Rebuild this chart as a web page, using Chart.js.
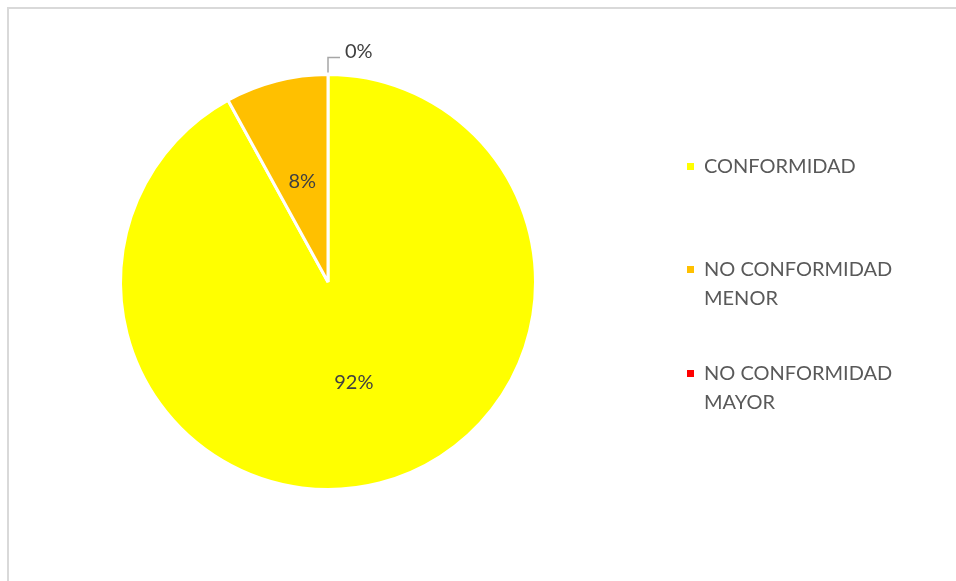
<!DOCTYPE html>
<html>
<head>
<meta charset="utf-8">
<script src="https://cdn.jsdelivr.net/npm/chart.js@4"></script>
<style>
  html, body { margin: 0; padding: 0; background: #fff; }
  #wrap { position: relative; width: 956px; height: 581px; }
</style>
</head>
<body>
<div id="wrap"><canvas id="chart" width="956" height="581"></canvas></div>
<script>
const categories = ["CONFORMIDAD", "NO CONFORMIDAD MENOR", "NO CONFORMIDAD MAYOR"];
const legendLines = [["CONFORMIDAD"], ["NO CONFORMIDAD", "MENOR"], ["NO CONFORMIDAD", "MAYOR"]];
const values = [92, 8, 0];
const sliceColors = ["#FFFF00", "#FFC000", "#FF0000"];

const FONT = "Lato, 'Open Sans', sans-serif";

// frame, data labels and legend
const decorPlugin = {
  id: "decor",
  beforeDraw(chart) {
    const ctx = chart.ctx;
    ctx.save();
    ctx.strokeStyle = "#d9d9d9";
    ctx.lineWidth = 2;
    ctx.beginPath();
    ctx.moveTo(8, 581);
    ctx.lineTo(8, 8);
    ctx.lineTo(956, 8);
    ctx.stroke();
    ctx.restore();
  },
  afterDraw(chart) {
    const ctx = chart.ctx;
    const arcs = chart.getDatasetMeta(0).data;
    const total = values.reduce((a, b) => a + b, 0);
    ctx.save();
    ctx.font = "20px " + FONT;
    ctx.fillStyle = "#404040";
    ctx.textBaseline = "middle";
    arcs.forEach((arc, i) => {
      const pct = Math.round(values[i] / total * 100) + "%";
      const mid = (arc.startAngle + arc.endAngle) / 2;
      if (values[i] > 0) {
        const d = arc.outerRadius * 0.5;
        ctx.textAlign = "center";
        ctx.fillText(pct, arc.x + Math.cos(mid) * d, arc.y + Math.sin(mid) * d);
      } else {
        // leader line for the empty slice
        const ex = arc.x + Math.cos(mid) * arc.outerRadius;
        const ey = arc.y + Math.sin(mid) * arc.outerRadius;
        ctx.strokeStyle = "#a6a6a6";
        ctx.lineWidth = 1.5;
        ctx.beginPath();
        ctx.moveTo(ex, ey - 2);
        ctx.lineTo(ex, ey - 17);
        ctx.lineTo(ex + 12, ey - 17);
        ctx.stroke();
        ctx.textAlign = "left";
        ctx.fillText(pct, ex + 17, ey - 23);
      }
    });

    // legend
    const lx = 687, tx = 704;
    const tops = [167, 270, 374];
    ctx.textAlign = "left";
    legendLines.forEach((lines, i) => {
      ctx.fillStyle = sliceColors[i];
      ctx.fillRect(lx, tops[i] - 4, 7, 7);
      ctx.fillStyle = "#595959";
      lines.forEach((t, j) => ctx.fillText(t, tx, tops[i] + j * 29));
    });
    ctx.restore();
  }
};

new Chart(document.getElementById("chart"), {
  type: "pie",
  data: {
    labels: categories,
    datasets: [{
      data: values,
      backgroundColor: sliceColors,
      borderColor: "#ffffff",
      borderWidth: 3
    }]
  },
  options: {
    responsive: false,
    animation: false,
    rotation: 0,
    layout: { padding: { left: 119, right: 419, top: 73, bottom: 90 } },
    plugins: {
      legend: { display: false },
      tooltip: { enabled: false }
    }
  },
  plugins: [decorPlugin]
});
</script>
</body>
</html>
